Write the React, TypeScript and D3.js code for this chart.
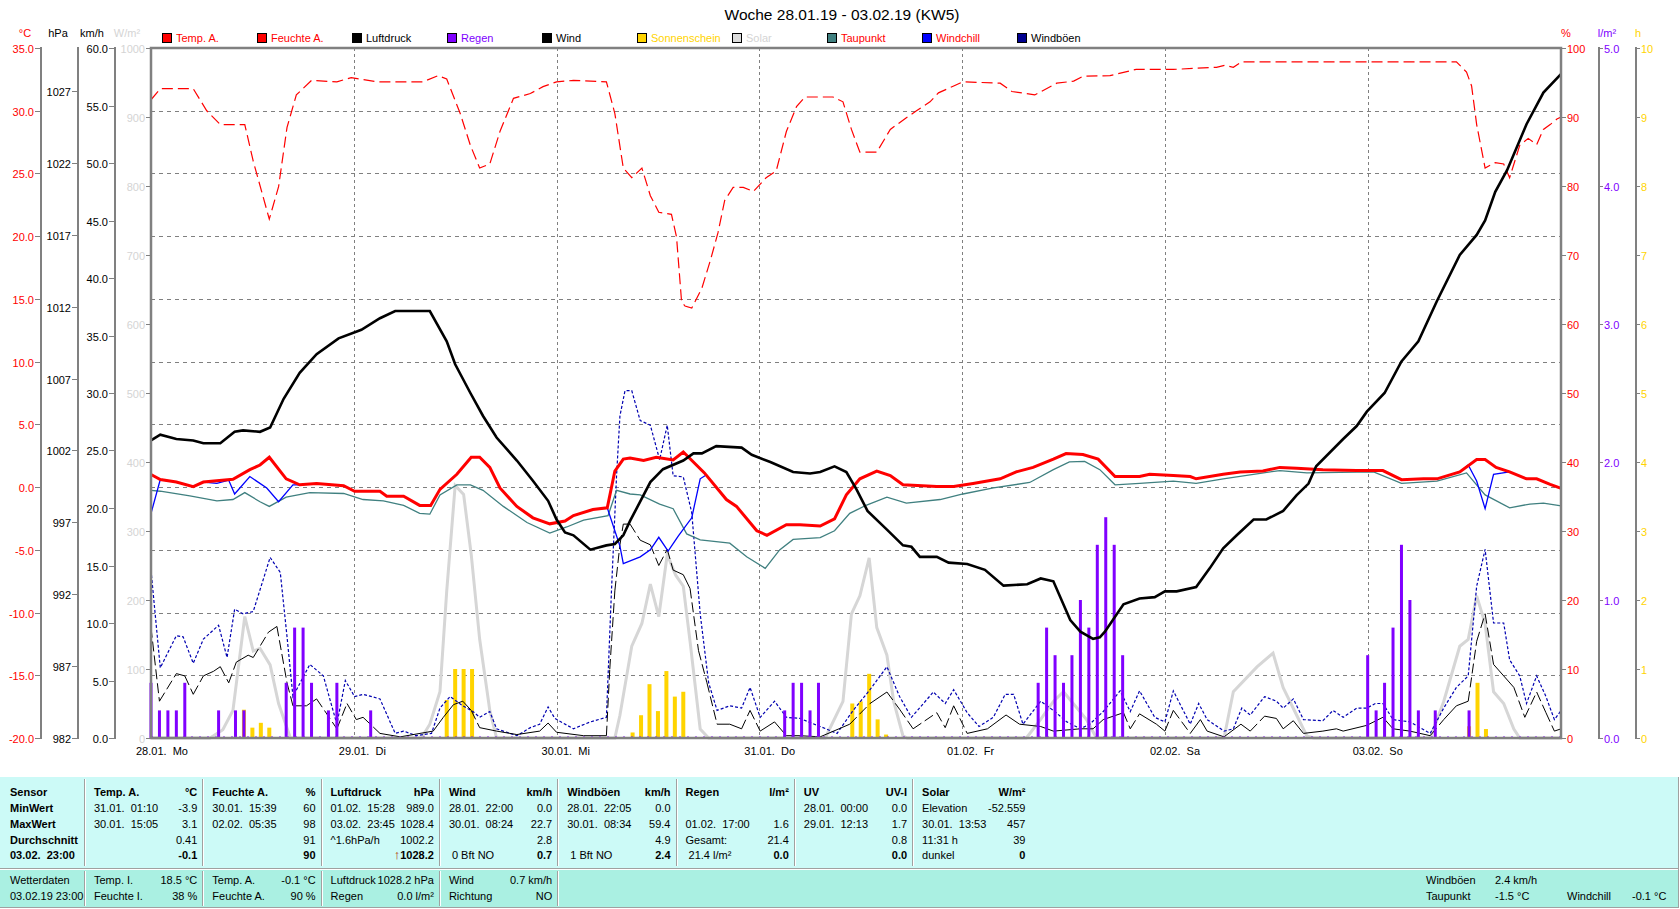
import * as d3 from "d3";
import React, { useEffect, useRef } from "react";

type Pt = [number, number];

// hours since 28.01. 00:00
const title = "Woche 28.01.19 - 03.02.19 (KW5)";
const dayLabels = ["28.01.  Mo", "29.01.  Di", "30.01.  Mi", "31.01.  Do", "01.02.  Fr", "02.02.  Sa", "03.02.  So"];

const tempA: Pt[] = [
	[0, 1.0], [1.1, 0.6], [3, 0.4], [5, 0.04], [6.2, 0.4], [9.7, 0.62], [11.7, 1.39], [12.9, 1.76], [14, 2.38],
	[16, 0.66], [17.6, 0.18], [19.6, 0.29], [22.8, 0.11], [24.1, -0.33], [27.1, -0.33], [27.9, -0.73], [29.9, -0.73],
	[31.8, -1.46], [33.1, -1.46], [34.2, -0.18], [36.2, 1.02], [37.9, 2.38], [38.9, 2.38], [40.1, 1.57], [41.3, -0.07],
	[43.3, -1.54], [45.2, -2.45], [47.2, -2.93], [49, -2.71], [50, -2.27], [52.3, -1.79], [54, -1.65], [54.9, 1.28],
	[55.9, 2.23], [56.7, 2.31], [58.3, 2.12], [59.8, 2.38], [61.8, 2.16], [63, 2.8], [65.5, 1.13], [68.1, -0.99],
	[69.3, -1.54], [71.7, -3.48], [72.9, -3.84], [75.2, -3.0], [76.8, -3.0], [79.2, -3.1], [80.9, -2.53], [82.3, -0.62],
	[83.9, 0.66], [85.9, 1.28], [87.5, 0.92], [89, 0.18], [93, 0.04], [95, 0.04], [97.3, 0.29], [100.5, 0.66],
	[102.4, 1.21], [104.4, 1.57], [106.8, 2.23], [108.3, 2.67], [110.3, 2.6], [112.1, 2.23], [114.1, 0.84], [117, 0.84],
	[118.2, 1.02], [121, 0.92], [123, 0.84], [123.7, 0.66], [126.9, 1.02], [128.9, 1.21], [131.6, 1.28], [133.6, 1.57],
	[135.6, 1.5], [138.7, 1.39], [142.7, 1.32], [145.8, 1.32], [148, 0.59], [150.6, 0.66], [152.2, 0.66], [154.9, 1.21],
	[156.9, 2.2], [157.9, 2.2], [159.2, 1.57], [160.8, 1.21], [162.8, 0.66], [164, 0.66], [165.6, 0.22], [166.9, -0.1],
];

const dewPoint: Pt[] = [
	[0, -0.26], [1.1, -0.33], [4.6, -0.7], [7.8, -1.1], [9.7, -0.99], [11.1, -0.44], [12.9, -1.17], [14, -1.54],
	[16, -0.8], [18.8, -0.44], [22.8, -0.51], [25.1, -0.99], [27.5, -1.1], [29.9, -1.46], [31.8, -2.09], [33, -2.16],
	[34.2, -0.62], [36.2, 0.18], [37.8, 0.18], [39.3, -0.26], [41.7, -1.54], [44.5, -2.82], [47.2, -3.66], [49.2, -3.18],
	[51.2, -2.64], [54.1, -2.27], [55.1, -0.26], [56.7, -0.55], [57.9, -0.62], [60.2, -1.35], [61.8, -1.72],
	[63.4, -3.73], [65, -4.21], [68.5, -4.47], [70.5, -5.56], [72.7, -6.48], [74.4, -5.01], [76, -4.17], [79.2, -4.03],
	[80.9, -3.48], [82.7, -2.09], [84.7, -1.43], [87.1, -0.8], [89.4, -1.28], [93.4, -0.99], [96.1, -0.55],
	[99.7, -0.07], [104, 0.37], [106.8, 1.39], [108.7, 2.01], [110.5, 2.05], [112.3, 1.39], [114.1, 0.18], [117, 0.29],
	[121, 0.48], [123.7, 0.29], [126.9, 0.66], [133.6, 1.32], [136.8, 1.13], [144.7, 1.21], [148, 0.29], [152.2, 0.48],
	[155.7, 1.13], [157.9, -0.62], [160.8, -1.65], [163.2, -1.35], [164.8, -1.28], [166.9, -1.5],
];

// windchill only drawn where it leaves the temperature curve
const windchill: Pt[][] = [
	[[0, -2.1], [1.1, 0.6], [3, 0.4], [5, 0.04], [6.2, 0.4], [7.8, 0.3], [9.2, 0.55], [9.9, -0.55], [11.7, 0.84],
		[13.7, -0.07], [15.1, -1.17], [16.8, 0.18], [17.6, 0.18]],
	[[54, -1.65], [55.5, -4.7], [55.9, -6.1], [57.9, -5.56], [59.1, -5.0], [60.1, -4.0], [61.2, -5.1], [62.4, -3.9],
		[64, -2.45], [65, 0.66], [65.8, 1.0]],
	[[154.9, 1.21], [155.9, 1.76], [156.9, 0.48], [157.9, -1.72], [158.9, 1.02], [160.8, 1.21]],
];

const humidity: Pt[] = [
	[0, 92.5], [1.1, 94.1], [5, 94.1], [6.6, 90.9], [8.2, 88.9], [11.1, 88.9], [12.1, 83.6], [14, 75.2], [15.1, 79.9],
	[16.1, 88.5], [17.2, 93.2], [19, 95.3], [22, 95.1], [23.7, 95.7], [26.7, 95.1], [32.2, 95.1], [34, 96], [35, 95.5],
	[36.6, 90.5], [37.8, 85.9], [38.9, 82.6], [40.1, 83.2], [41.3, 87.9], [42.9, 92.7], [44.9, 93.4], [46.4, 94.4],
	[48, 95.1], [50, 95.3], [53.9, 95.1], [54.9, 90.5], [55.9, 82.6], [56.9, 81.2], [58.1, 82.6], [59.1, 78.6],
	[60.1, 76.2], [61.6, 75.9], [62.2, 72.6], [62.8, 63.2], [63.2, 62.6], [64, 62.3], [65.2, 65.2], [66.2, 69.2],
	[67.1, 73.2], [67.9, 77.9], [68.9, 79.8], [70.1, 79.8], [71.3, 79.2], [72.8, 81.2], [74, 82.2], [75.2, 87.9],
	[76.4, 91.5], [77.4, 92.9], [80.7, 92.9], [81.9, 92.2], [82.9, 88.2], [83.9, 84.9], [85.9, 84.9], [87.5, 88.2],
	[89.4, 89.9], [90.6, 90.9], [92.2, 92.2], [93.2, 93.5], [95, 94.5], [96.1, 95.1], [100.5, 94.9], [101.9, 93.7],
	[104.6, 93.2], [107.2, 94.9], [109.2, 95.2], [110.3, 95.9], [113.5, 96], [116.6, 96.9], [121, 96.9], [126.1, 97.2],
	[127.1, 97.5], [128.1, 97.2], [129.1, 98], [154.5, 98], [155.7, 96.5], [156.3, 94.5], [156.9, 88.9], [157.9, 82.6],
	[159.1, 83.4], [160.1, 83.2], [160.8, 81.2], [162, 85.9], [163, 86.9], [164, 86], [164.8, 88.2], [165.6, 88.9],
	[166.4, 89.7], [166.9, 90],
];

const pressure: Pt[] = [
	[0, 1002.7], [1.1, 1003.1], [3, 1002.8], [5, 1002.7], [6.2, 1002.5], [8.2, 1002.5], [9.9, 1003.3], [10.9, 1003.4],
	[12.9, 1003.3], [14.1, 1003.6], [15.7, 1005.6], [17.6, 1007.4], [19.6, 1008.7], [22.2, 1009.8], [24.9, 1010.4],
	[27.1, 1011.2], [28.9, 1011.7], [33, 1011.7], [35, 1009.6], [36, 1008], [37.8, 1006], [39.3, 1004.4],
	[40.9, 1002.9], [43.3, 1001.3], [45.2, 999.9], [47, 998.5], [48, 997.2], [49, 996.3], [50, 996.1], [52, 995.1],
	[53.9, 995.4], [54.9, 995.5], [55.9, 996.1], [56.7, 997.1], [59.1, 999.8], [60.6, 1000.7], [63, 1001.3],
	[64.2, 1001.8], [65.2, 1001.8], [66.9, 1002.3], [69.9, 1002.2], [71.1, 1001.7], [73.3, 1001.2], [76, 1000.5],
	[78, 1000.4], [79.2, 1000.5], [80.9, 1000.9], [82.3, 1000.5], [83.5, 999.3], [84.8, 997.8], [87.1, 996.5],
	[89, 995.4], [90, 995.3], [91, 994.6], [93, 994.6], [94.4, 994.2], [96.6, 994.1], [98.7, 993.7], [100.9, 992.6],
	[103.7, 992.7], [105.3, 993.1], [106.8, 992.9], [108.8, 990.2], [110, 989.4], [111.5, 988.9], [112.3, 989],
	[112.9, 989.4], [115.1, 991.3], [117, 991.7], [118.8, 991.8], [120, 992.2], [121.4, 992.2], [123.7, 992.5],
	[125.3, 993.8], [126.9, 995.2], [128.5, 996.1], [130.5, 997.2], [132, 997.2], [134, 997.8], [135.6, 998.9],
	[137, 999.7], [137.9, 1000.9], [141.1, 1002.8], [142.7, 1003.7], [143.9, 1004.7], [146, 1006], [148, 1008.2],
	[150, 1009.6], [152.2, 1012.4], [154.9, 1015.6], [156.9, 1017], [157.9, 1018], [159.1, 1020], [160.5, 1021.5],
	[162.8, 1024.7], [164.8, 1026.9], [166.9, 1028.2],
];

const windSpeed: Pt[] = [
	[0, 9.6], [1, 3.2], [3, 5.6], [4, 5.4], [5, 3.8], [6.2, 5.4], [7.4, 5.8], [8.2, 6.2], [9.2, 4.8], [10.1, 6.6],
	[11.5, 7.2], [12.1, 7.0], [13.9, 9.2], [14.9, 9.7], [16.1, 4.8], [16.8, 2.8], [18.4, 2.8], [19.6, 3.4], [22, 0.8],
	[23.2, 3.0], [24.3, 1.6], [25.1, 1.8], [27.1, 0.4], [29.5, 0.1], [33.4, 0.6], [34.6, 1.8], [35.8, 2.9], [36.9, 3.2],
	[37.9, 2.4], [38.9, 0.9], [40.9, 0.6], [43.3, 0.3], [46, 0.6], [47, 1.3], [48, 0.5], [51.2, 0.2], [53.9, 0.2],
	[54.3, 6.0], [54.9, 12.8], [55.5, 16.8], [55.9, 18.6], [56.7, 18.6], [57.9, 17.2], [59.1, 16.8], [60.1, 15],
	[61.1, 16.4], [61.8, 14.6], [63, 14.2], [63.8, 13], [64.8, 7.6], [65.8, 4.8], [67, 1.2], [68.5, 1.2], [69.9, 0.8],
	[70.9, 2.4], [72.1, 0.6], [73.8, 1.4], [75.2, 0.2], [76.8, 0.2], [79.2, 0.1], [82.7, 1.2], [85.1, 3.0], [87.1, 4.0],
	[88.6, 2.5], [90.2, 0.8], [93, 2.2], [94, 0.9], [95, 2.8], [96.6, 0.4], [99, 0.8], [101.2, 2.0], [102.8, 1.2],
	[105.3, 1.0], [106.8, 0.6], [110, 0.8], [111.5, 0.8], [112.7, 1.6], [115.1, 2.2], [115.9, 0.8], [117, 2.1],
	[119, 1.2], [120, 0.6], [121, 2.4], [123, 0.4], [124.2, 1.6], [125, 0.6], [127, 0.1], [129, 1.2], [130.1, 0.6],
	[131.8, 1.9], [133.2, 1.7], [134, 0.8], [135.2, 1.5], [136.4, 0.4], [138.7, 0.6], [140.3, 0.8], [141.1, 0.6],
	[143.9, 1.1], [145.8, 1.8], [147, 0.8], [149, 0.6], [151.4, 0.2], [153, 1.6], [154.5, 2.8], [155.9, 3.2],
	[156.9, 8.4], [157.9, 10.8], [158.9, 6.4], [160.1, 5.4], [161.3, 4.4], [162.6, 1.8], [164, 4.0], [165.1, 2.2],
	[166.1, 0.6], [166.9, 0.8],
];

const windGust: Pt[] = [
	[0, 14.6], [1.1, 6.1], [3, 8.9], [3.8, 8.8], [5, 6.5], [6.2, 8.6], [8, 9.8], [9, 7.0], [9.9, 11.2], [10.9, 10.8],
	[12.1, 11], [14.1, 15.7], [15.3, 14.4], [16.1, 8.8], [16.8, 3.6], [18.8, 6.4], [20.4, 5.4], [22, 1.2], [23, 5.0],
	[24.1, 3.6], [25.1, 3.8], [27.1, 3.4], [28.9, 0.4], [29.9, 0.6], [31.4, 0.2], [33.2, 0.4], [34.2, 2.6],
	[35.4, 3.6], [36.9, 2.8], [38.1, 2.3], [38.9, 1.8], [40.1, 2.3], [40.9, 0.8], [43.3, 0.2], [44.9, 0.9], [46, 1.2],
	[47, 2.7], [47.8, 1.7], [50, 0.8], [52, 1.4], [53.9, 1.8], [54.5, 12.8], [55.1, 22.8], [55.5, 28], [56.1, 30.2],
	[56.9, 30.2], [57.9, 27.6], [59.1, 27.2], [60.2, 24.2], [61.1, 27.2], [61.8, 22.8], [63, 22.7], [64, 19.6],
	[65, 10.8], [66, 4.8], [67, 2.4], [68.5, 2.8], [69.9, 2.6], [70.9, 4.4], [72.1, 1.8], [73.8, 3.2], [75.2, 1.8],
	[76.8, 1.7], [79.2, 1.0], [81.2, 0.4], [83.1, 2.4], [85.1, 4.2], [87.1, 6.2], [88.6, 3.6], [90, 1.8], [92.6, 4.0],
	[94, 3.0], [95, 4.2], [96.6, 2.2], [98, 1.0], [99.7, 1.8], [101.1, 3.8], [102.1, 3.8], [103.2, 1.2], [105.3, 3.2],
	[106.8, 2.4], [108.4, 1.4], [110, 0.8], [111.1, 1.2], [112.7, 2.3], [114.7, 4.1], [115.9, 2.3], [117, 4.1],
	[118.8, 1.8], [120, 1.4], [121, 4.1], [123, 1.2], [124, 3.0], [125, 1.6], [127, 0.6], [128.1, 0.8], [129.1, 2.6],
	[130.1, 2.0], [131.8, 3.6], [133.2, 3.2], [134, 2.6], [135.2, 3.4], [136.4, 1.6], [138.7, 1.5], [139.9, 2.4],
	[141.1, 1.8], [142.7, 2.6], [143.9, 2.6], [144.9, 3.0], [145.8, 3.0], [147, 1.6], [149, 1.4], [151.4, 0.4],
	[153, 2.6], [154.5, 4.4], [155.9, 5.4], [156.9, 13.2], [157.9, 16.4], [158.9, 10], [160.1, 10], [160.8, 6.8],
	[162, 5.4], [162.8, 3.0], [164, 5.4], [165.1, 3.6], [166.1, 1.6], [166.9, 2.4],
];

const solar: Pt[] = [
	[0, 0], [7, 0], [8.5, 12], [9.7, 40], [11.1, 176], [12.1, 126], [12.9, 130], [14.1, 106], [15.1, 50], [16.5, 0],
	[32, 0], [33, 20], [34.2, 67], [35, 213], [36, 366], [37, 353], [37.9, 266], [38.9, 143], [40.1, 40], [40.9, 0],
	[54.9, 0], [55.5, 33], [56.9, 133], [58.1, 166], [59.1, 223], [60.1, 176], [61.1, 266], [62.1, 236], [63, 220],
	[63.8, 140], [65, 13], [66, 0], [79.8, 0], [81.9, 53], [82.9, 180], [83.9, 206], [85, 261], [85.9, 160],
	[87.1, 120], [87.9, 53], [89, 3], [89.5, 0], [103.6, 0], [105.3, 27], [106.8, 53], [108, 67], [110.7, 27],
	[111.9, 0], [127, 0], [128.1, 67], [130.9, 103], [132.8, 123], [134, 73], [135.6, 33], [136.8, 3], [137.6, 0],
	[151.4, 0], [153, 53], [154.9, 133], [155.9, 143], [156.9, 206], [157.9, 166], [158.9, 67], [160.1, 50],
	[161.3, 13], [162, 0], [167, 0],
];

// l/m² per hour
const rain: Pt[] = [
	[0, 0.4], [1, 0.2], [2, 0.2], [3, 0.2], [4, 0.4], [8, 0.2], [10, 0.2], [11, 0.2], [16, 0.4], [17, 0.8], [18, 0.8],
	[19, 0.4], [21, 0.2], [22, 0.4], [26, 0.2], [75, 0.2], [76, 0.4], [77, 0.4], [78, 0.2], [79, 0.4], [105, 0.4],
	[106, 0.8], [107, 0.6], [108, 0.4], [109, 0.6], [110, 1.0], [111, 0.8], [112, 1.4], [113, 1.6], [114, 1.4],
	[115, 0.6], [144, 0.6], [145, 0.2], [146, 0.4], [147, 0.8], [148, 1.4], [149, 1.0], [150, 0.2], [152, 0.2],
	[156, 0.2],
];

// h of sunshine per hour
const sunshine: Pt[] = [
	[11, 0.41], [12, 0.15], [13, 0.22], [14, 0.15], [35, 0.55], [36, 1.0], [37, 1.0], [38, 1.0], [57, 0.08],
	[58, 0.33], [59, 0.78], [60, 0.39], [61, 0.97], [62, 0.6], [63, 0.67], [83, 0.5], [84, 0.53], [85, 0.93],
	[86, 0.27], [87, 0.05], [156, 0.17], [157, 0.8], [158, 0.13],
];

const legendItems = [
	{ name: "Temp. A.", box: "#ff0000", text: "#ff0000" },
	{ name: "Feuchte A.", box: "#ff0000", text: "#ff0000" },
	{ name: "Luftdruck", box: "#000000", text: "#000000" },
	{ name: "Regen", box: "#8000ff", text: "#8000ff" },
	{ name: "Wind", box: "#000000", text: "#000000" },
	{ name: "Sonnenschein", box: "#ffd400", text: "#ffd400" },
	{ name: "Solar", box: "#dcdcdc", text: "#d4d4d4" },
	{ name: "Taupunkt", box: "#408080", text: "#ff0000" },
	{ name: "Windchill", box: "#0000ff", text: "#ff0000" },
	{ name: "Windböen", box: "#000090", text: "#000000" },
];

const sensorRows = ["Sensor", "MinWert", "MaxWert", "Durchschnitt", "03.02.  23:00"];
const tableCols = [
	{ head: "Temp. A.", unit: "°C", rows: [["31.01.  01:10", "-3.9"], ["30.01.  15:05", "3.1"], ["", "0.41"], ["", "-0.1"]] },
	{ head: "Feuchte A.", unit: "%", rows: [["30.01.  15:39", "60"], ["02.02.  05:35", "98"], ["", "91"], ["", "90"]] },
	{ head: "Luftdruck", unit: "hPa", rows: [["01.02.  15:28", "989.0"], ["03.02.  23:45", "1028.4"], ["^1.6hPa/h", "1002.2"], ["", "↑1028.2"]] },
	{ head: "Wind", unit: "km/h", rows: [["28.01.  22:00", "0.0"], ["30.01.  08:24", "22.7"], ["", "2.8"], [" 0 Bft NO", "0.7"]] },
	{ head: "Windböen", unit: "km/h", rows: [["28.01.  22:05", "0.0"], ["30.01.  08:34", "59.4"], ["", "4.9"], [" 1 Bft NO", "2.4"]] },
	{ head: "Regen", unit: "l/m²", rows: [["", ""], ["01.02.  17:00", "1.6"], ["Gesamt:", "21.4"], [" 21.4 l/m²", "0.0"]] },
	{ head: "UV", unit: "UV-I", rows: [["28.01.  00:00", "0.0"], ["29.01.  12:13", "1.7"], ["", "0.8"], ["", "0.0"]] },
	{ head: "Solar", unit: "W/m²", rows: [["Elevation", "-52.559"], ["30.01.  13:53", "457"], ["11:31 h", "39"], ["dunkel", "0"]] },
];
const statusCols = [
	[["Temp. I.", "18.5 °C"], ["Feuchte I.", "38 %"]],
	[["Temp. A.", "-0.1 °C"], ["Feuchte A.", "90 %"]],
	[["Luftdruck", "1028.2 hPa"], ["Regen", "0.0 l/m²"]],
	[["Wind", "0.7 km/h"], ["Richtung", "NO"]],
];

const T = 48, B = 738, L = 151, R = 1561;
const FONT = "'Liberation Sans', Arial, sans-serif";

const App = (): JSX.Element => {
	const svgRef = useRef<SVGSVGElement>(null);

	useEffect(() => {
		const svg = d3.select(svgRef.current);
		svg.selectAll("*").remove();

		const x = d3.scaleLinear().domain([0, 167]).range([L, 1562]);
		const yT = d3.scaleLinear().domain([-20, 35]).range([B, T]);
		const yP = d3.scaleLinear().domain([982, 1030]).range([B, T]);
		const yW = d3.scaleLinear().domain([0, 60]).range([B, T]);
		const yS = d3.scaleLinear().domain([0, 1000]).range([B, T]);
		const yH = d3.scaleLinear().domain([0, 100]).range([B, T]);
		const yR = d3.scaleLinear().domain([0, 5]).range([B, T]);
		const ySun = d3.scaleLinear().domain([0, 10]).range([B, T]);

		svg.append("rect").attr("width", 1680).attr("height", 909).attr("fill", "#fff");

		const txt = (g: any, s: string, tx: number, ty: number, fill = "#000", anchor = "start", size = 11, weight = "normal") =>
			g.append("text").attr("x", tx).attr("y", ty).attr("fill", fill).attr("text-anchor", anchor)
				.attr("font-size", size).attr("font-weight", weight).attr("font-family", FONT)
				.style("white-space", "pre").text(s);

		// title + legend
		txt(svg, title, 842, 20, "#000", "middle", 15.5);
		legendItems.forEach((d, i) => {
			const lx = 162 + 95 * i;
			svg.append("rect").attr("x", lx + 0.5).attr("y", 33.5).attr("width", 9).attr("height", 9)
				.attr("fill", d.box).attr("stroke", "#000");
			txt(svg, d.name, lx + 14, 42, d.text);
		});

		// unit headers
		txt(svg, "°C", 25, 37, "#ff0000", "middle");
		txt(svg, "hPa", 58, 37, "#000", "middle");
		txt(svg, "km/h", 92, 37, "#000", "middle");
		txt(svg, "W/m²", 127, 37, "#d4d4d4", "middle");
		txt(svg, "%", 1566, 37, "#ff0000", "middle");
		txt(svg, "l/m²", 1607, 37, "#8000ff", "middle");
		txt(svg, "h", 1638, 37, "#ffd400", "middle");

		// grid
		const grid = svg.append("g").attr("stroke", "#808080").attr("stroke-width", 1);
		d3.range(-15, 35, 5).forEach((v) => {
			const gy = Math.round(yT(v)) + 0.5;
			grid.append("line").attr("x1", L).attr("x2", R).attr("y1", gy).attr("y2", gy).attr("stroke-dasharray", "4,4");
		});
		d3.range(1, 7).forEach((d) => {
			const gx = Math.round(x(d * 24)) + 0.5;
			grid.append("line").attr("x1", gx).attr("x2", gx).attr("y1", T).attr("y2", B).attr("stroke-dasharray", "3,3");
		});

		// axes
		const axis = svg.append("g");
		const vAxis = (ax: number, scale: any, vals: number[], fmt: (v: number) => string, color: string, side: "left" | "right", tickFrom: number, labelX: number) => {
			if (ax !== L && ax !== R) axis.append("line").attr("x1", ax).attr("x2", ax).attr("y1", T - 1).attr("y2", B + 1).attr("stroke", "#808080").attr("stroke-width", 2);
			vals.forEach((v) => {
				const ty = Math.round(scale(v)) + 0.5;
				axis.append("line").attr("x1", tickFrom).attr("x2", ax).attr("y1", ty).attr("y2", ty).attr("stroke", "#808080");
				txt(axis, fmt(v), labelX, ty + 4, color, side === "left" ? "end" : "start");
			});
		};
		vAxis(41, yT, d3.range(-20, 36, 5), (v) => v.toFixed(1), "#ff0000", "left", 35, 34);
		vAxis(78, yP, d3.range(982, 1030, 5), (v) => String(v), "#000", "left", 72, 71);
		vAxis(115, yW, d3.range(0, 61, 5), (v) => v.toFixed(1), "#000", "left", 109, 108);
		vAxis(L, yS, d3.range(0, 1001, 100), (v) => String(v), "#d4d4d4", "left", 146, 145);
		vAxis(R, yH, d3.range(0, 101, 10), (v) => String(v), "#ff0000", "right", 1566, 1567);
		vAxis(1599, yR, d3.range(0, 5.1, 1), (v) => v.toFixed(1), "#8000ff", "right", 1603, 1604);
		vAxis(1636, ySun, d3.range(0, 11, 1), (v) => String(v), "#ffd400", "right", 1640, 1641);

		// day labels
		dayLabels.forEach((s, i) => txt(svg, s, x(i * 24) - 15, 755));

		const plot = svg.append("g");
		const line = (scale: any) => d3.line<Pt>().x((d) => x(d[0])).y((d) => scale(d[1]));

		plot.append("path").attr("d", line(yS)(solar)).attr("fill", "none").attr("stroke", "#d6d6d6").attr("stroke-width", 3);

		plot.selectAll("rect.sun").data(sunshine).join("rect").attr("class", "sun")
			.attr("x", (d) => x(d[0]) - 2).attr("width", 4)
			.attr("y", (d) => ySun(d[1])).attr("height", (d) => B - ySun(d[1])).attr("fill", "#ffd400");

		plot.append("path").attr("d", line(yW)(windGust)).attr("fill", "none").attr("stroke", "#0000b0")
			.attr("stroke-width", 1.2).attr("stroke-dasharray", "3,2");

		// wind: dash pattern restarts on every segment, so only steep segments show gaps
		d3.pairs(windSpeed).forEach(([a, b]) => {
			const dy = Math.abs(yW(a[1]) - yW(b[1]));
			plot.append("line").attr("x1", x(a[0])).attr("y1", yW(a[1])).attr("x2", x(b[0])).attr("y2", yW(b[1]))
				.attr("stroke", "#000").attr("stroke-width", 1).attr("stroke-dasharray", dy > 14 ? "10,4" : null);
		});

		plot.selectAll("rect.rain").data(rain).join("rect").attr("class", "rain")
			.attr("x", (d) => x(d[0]) - 1.5).attr("width", 3)
			.attr("y", (d) => yR(d[1])).attr("height", (d) => B - yR(d[1])).attr("fill", "#8000ff");
		plot.append("line").attr("x1", L).attr("x2", R).attr("y1", B - 1).attr("y2", B - 1)
			.attr("stroke", "#8000ff").attr("stroke-dasharray", "2,6");

		plot.append("path").attr("d", line(yT)(dewPoint)).attr("fill", "none").attr("stroke", "#408080").attr("stroke-width", 1.3);
		windchill.forEach((seg) =>
			plot.append("path").attr("d", line(yT)(seg)).attr("fill", "none").attr("stroke", "#0000ff").attr("stroke-width", 1.3));
		plot.append("path").attr("d", line(yT)(tempA)).attr("fill", "none").attr("stroke", "#ff0000").attr("stroke-width", 3);
		plot.append("path").attr("d", line(yH)(humidity)).attr("fill", "none").attr("stroke", "#ff0000")
			.attr("stroke-width", 1.2).attr("stroke-dasharray", "11,5");
		plot.append("path").attr("d", line(yP)(pressure)).attr("fill", "none").attr("stroke", "#000").attr("stroke-width", 2.6);

		// plot frame
		svg.append("rect").attr("x", L).attr("y", T).attr("width", R - L).attr("height", B - T)
			.attr("fill", "none").attr("stroke", "#808080").attr("stroke-width", 2.5);

		// table
		const tb = svg.append("g");
		const colX = d3.range(0, 9).map((i) => (i === 0 ? 0 : 84 + (i - 1) * 118.3));
		tb.append("rect").attr("x", 0).attr("y", 777).attr("width", 1678).attr("height", 91).attr("fill", "#ccfaf7");
		tb.append("rect").attr("x", 0).attr("y", 870).attr("width", 1678).attr("height", 37).attr("fill", "#aaf0e2");
		const sep = (sx: number, y1: number, y2: number) => {
			tb.append("line").attr("x1", sx + 0.5).attr("x2", sx + 0.5).attr("y1", y1).attr("y2", y2).attr("stroke", "#a0a0a0");
			tb.append("line").attr("x1", sx + 1.5).attr("x2", sx + 1.5).attr("y1", y1).attr("y2", y2).attr("stroke", "#fff");
		};
		colX.slice(1).forEach((cx) => sep(Math.round(cx), 779, 866));
		colX.slice(1, 6).forEach((cx) => sep(Math.round(cx), 871, 906));
		[868.5, 907.5].forEach((ly) => tb.append("line").attr("x1", 0).attr("x2", 1678).attr("y1", ly).attr("y2", ly).attr("stroke", "#a0a0a0"));
		tb.append("line").attr("x1", 0).attr("x2", 1678).attr("y1", 869.5).attr("y2", 869.5).attr("stroke", "#fff");
		tb.append("line").attr("x1", 1678.5).attr("x2", 1678.5).attr("y1", 777).attr("y2", 908).attr("stroke", "#a0a0a0");

		const rowY = [796, 812, 828, 844, 859];
		sensorRows.forEach((s, i) => txt(tb, s, 10, rowY[i], "#000", "start", 11, "bold"));
		tableCols.forEach((c, i) => {
			const x0 = colX[i + 1];
			const x1 = x0 + 118.3 - 5;
			txt(tb, c.head, x0 + 10, rowY[0], "#000", "start", 11, "bold");
			txt(tb, c.unit, x1, rowY[0], "#000", "end", 11, "bold");
			c.rows.forEach((r, j) => {
				const last = j === 3;
				if (r[0]) txt(tb, r[0], x0 + 10, rowY[j + 1]);
				if (r[1].startsWith("↑")) {
					const t = txt(tb, "", x1, rowY[j + 1], "#000", "end", 11, "bold");
					t.append("tspan").attr("fill", "#b03000").attr("font-size", 13).text("↑");
					t.append("tspan").text(r[1].slice(1));
				} else if (r[1]) txt(tb, r[1], x1, rowY[j + 1], "#000", "end", 11, last ? "bold" : "normal");
			});
		});

		const stY = [884, 900];
		txt(tb, "Wetterdaten", 10, stY[0]);
		txt(tb, "03.02.19 23:00", 10, stY[1]);
		statusCols.forEach((c, i) => {
			const x0 = colX[i + 1];
			c.forEach((r, j) => {
				txt(tb, r[0], x0 + 10, stY[j]);
				txt(tb, r[1], x0 + 118.3 - 5, stY[j], "#000", "end");
			});
		});
		txt(tb, "Windböen", 1426, stY[0]);
		txt(tb, "2.4 km/h", 1495, stY[0]);
		txt(tb, "Taupunkt", 1426, stY[1]);
		txt(tb, "-1.5 °C", 1495, stY[1]);
		txt(tb, "Windchill", 1567, stY[1]);
		txt(tb, "-0.1 °C", 1632, stY[1]);
	}, []);

	return (
		<svg ref={svgRef} width={1680} height={909} style={{ position: "absolute", left: 0, top: 0 }} />
	);
};

export default App;
